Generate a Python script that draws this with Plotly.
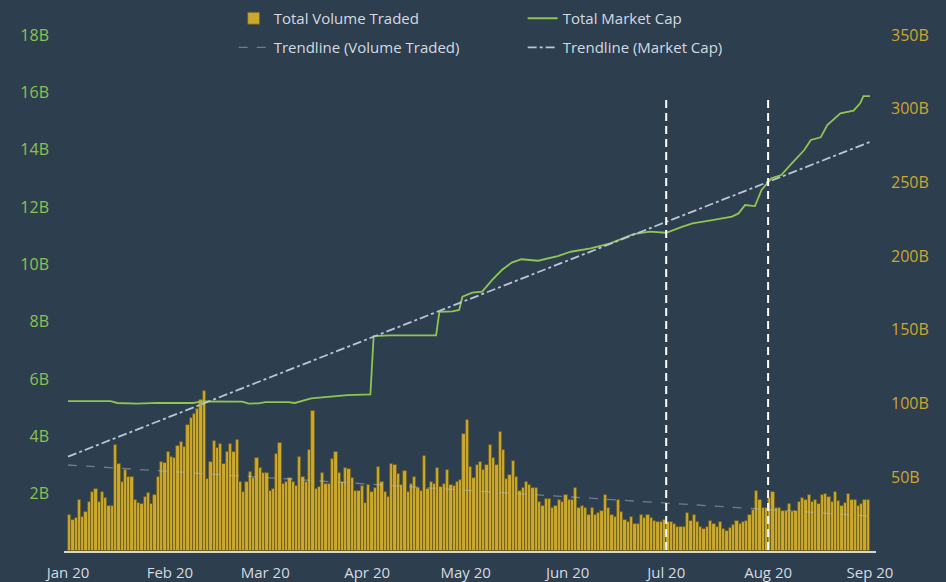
import pandas as pd
import plotly.graph_objects as go

# ---------------- data (billions) ----------------
vol_jan = [1.26,1.08,1.15,1.78,1.19,1.36,1.71,2.06,2.16,1.71,2.06,1.85,1.57,1.57,3.70,3.03,2.41,2.83,2.58,2.58,1.78,1.67,1.64,1.88,2.02,1.64,1.95,2.58,3.10,3.08,3.45]
vol_feb = [3.28,3.25,3.66,3.80,3.63,4.39,4.64,4.78,4.95,5.27,5.58,2.51,3.10,3.84,3.59,3.73,3.03,3.45,3.73,3.45,3.87,2.41,2.06,2.41,2.75,2.55,3.24,2.90,2.72]
vol_mar = [2.71,2.09,2.16,3.37,3.76,2.33,2.42,2.53,2.42,2.28,3.29,2.59,2.42,3.52,4.88,2.16,2.24,2.71,2.33,2.33,3.21,3.46,2.71,2.42,2.88,2.86,2.53,2.09,2.09,2.28,1.66]
vol_apr = [2.30,2.05,2.19,2.94,2.40,2.05,1.90,3.02,2.99,2.67,2.30,2.79,2.07,2.33,2.59,2.19,2.09,3.32,2.16,2.42,2.33,2.88,2.24,2.33,2.84,2.30,2.28,2.42,2.49,4.07]
vol_may = [4.57,2.94,2.53,3.00,3.09,2.84,3.00,3.70,3.25,3.00,4.14,3.52,2.50,2.64,3.14,2.59,2.09,2.19,2.42,2.30,2.19,2.19,1.72,1.58,1.81,1.81,1.51,1.58,1.79,1.72,1.95]
vol_jun = [1.79,1.79,2.19,1.51,1.58,1.51,1.26,1.49,1.24,1.31,1.40,1.95,1.49,1.24,1.20,1.79,1.37,1.08,1.00,1.17,0.93,0.93,1.24,1.15,1.24,1.15,1.05,1.00,1.00,1.08]
vol_jul = [1.02,1.00,0.93,0.85,0.83,0.85,1.31,1.05,1.24,1.02,0.85,0.77,0.85,1.05,0.93,0.83,1.00,0.77,0.70,0.80,0.90,1.05,0.93,1.00,1.05,1.24,1.43,2.09,1.79,1.49,1.49]
vol_aug = [1.84,2.07,1.51,1.49,1.40,1.40,1.65,1.37,1.40,1.72,1.84,1.79,1.95,1.72,1.79,1.65,1.95,2.00,1.90,1.72,2.07,1.74,1.58,1.67,1.98,1.79,1.79,1.58,1.65,1.79,1.79]

mcap_dates = ["2020-01-01","2020-01-08","2020-01-14","2020-01-16","2020-01-22","2020-01-28","2020-02-03","2020-02-08",
              "2020-02-11","2020-02-17","2020-02-23","2020-02-25","2020-02-28","2020-03-01","2020-03-08","2020-03-10",
              "2020-03-12","2020-03-15","2020-03-20","2020-03-26","2020-04-02","2020-04-03","2020-04-08","2020-04-15",
              "2020-04-22","2020-04-23","2020-04-27","2020-04-29","2020-04-30","2020-05-03","2020-05-06","2020-05-09",
              "2020-05-12","2020-05-15","2020-05-18","2020-05-23","2020-05-29","2020-06-02","2020-06-08","2020-06-14",
              "2020-06-21","2020-06-26","2020-07-01","2020-07-06","2020-07-09","2020-07-15","2020-07-21","2020-07-23",
              "2020-07-25","2020-07-28","2020-07-30","2020-08-02","2020-08-05","2020-08-08","2020-08-12","2020-08-14",
              "2020-08-17","2020-08-19","2020-08-23","2020-08-27","2020-08-29","2020-08-30","2020-09-01"]
mcap_values = [101.7,101.9,101.6,100.4,100.0,100.5,100.2,100.4,
               101.5,101.5,101.3,100.0,100.2,101.0,101.0,100.4,
               101.5,103.6,104.6,105.8,106.3,145.8,146.2,146.5,
               146.3,162.3,162.6,163.5,172.5,175.2,175.9,183.8,
               190.6,195.6,197.9,196.9,200.1,203.0,205.3,208.7,
               215.0,216.6,215.9,220.0,222.3,224.5,226.8,229.0,
               234.7,234.0,244.9,252.8,255.0,262.5,272.0,278.8,
               280.6,289.0,296.9,298.7,303.7,308.6,308.6]

trend_dates = ["2020-01-01", "2020-09-01"]
vol_trend = [3.0, 1.22]
mcap_trend = [64.0, 277.5]

event_dates = ["2020-07-01", "2020-08-01"]
event_top = 306

left_ticks = [2, 4, 6, 8, 10, 12, 14, 16, 18]
left_labels = [f"{v}B" for v in left_ticks]
right_ticks = [50, 100, 150, 200, 250, 300, 350]
right_labels = [f"{v}B" for v in right_ticks]

# ---------------- build ----------------
volume = vol_jan + vol_feb + vol_mar + vol_apr + vol_may + vol_jun + vol_jul + vol_aug
vol_x = pd.date_range("2020-01-01", periods=len(volume), freq="D") + pd.Timedelta(hours=12)

BG = "#2d3e4f"
GOLD = "#cba82e"
GREEN = "#8cc152"
TXT = "#d5dae0"
FONT = "Open Sans"

fig = go.Figure()
fig.add_trace(go.Bar(
    x=vol_x, y=volume, name="Total Volume Traded", yaxis="y",
    marker=dict(color=GOLD, line=dict(color="#6a5b1c", width=0.8)),
    legend="legend", hoverinfo="skip"))
fig.add_trace(go.Scatter(
    x=mcap_dates, y=mcap_values, name="Total Market Cap", yaxis="y2", mode="lines",
    line=dict(color="#8fc550", width=1.8), legend="legend"))
fig.add_trace(go.Scatter(
    x=trend_dates, y=vol_trend, name="Trendline (Volume Traded)", yaxis="y", mode="lines",
    line=dict(color="rgba(170,190,210,0.5)", width=1.3, dash="dash"), legend="legend2"))
fig.add_trace(go.Scatter(
    x=trend_dates, y=mcap_trend, name="Trendline (Market Cap)", yaxis="y2", mode="lines",
    line=dict(color="#b8c6d6", width=1.8, dash="dashdot"), legend="legend2"))

for d in event_dates:
    fig.add_shape(type="line", xref="x", yref="y2", x0=d, x1=d, y0=event_top, y1=0,
                  line=dict(color="white", width=2, dash="8px,5px"), layer="above")

fig.update_layout(
    width=946, height=582,
    paper_bgcolor=BG, plot_bgcolor=BG,
    margin=dict(l=64, r=70, t=20, b=31, autoexpand=False),
    font=dict(family=FONT, color=TXT, size=15),
    bargap=0,
    showlegend=True,
    legend=dict(orientation="h", xref="container", yref="container", x=0.247, y=0.9966,
                xanchor="left", yanchor="top", entrywidth=244, bgcolor="rgba(0,0,0,0)",
                font=dict(family=FONT, size=15, color=TXT)),
    legend2=dict(orientation="h", xref="container", yref="container", x=0.247, y=0.9466,
                 xanchor="left", yanchor="top", entrywidth=244, bgcolor="rgba(0,0,0,0)",
                 font=dict(family=FONT, size=15, color=TXT)),
    xaxis=dict(type="date", range=["2019-12-30 18:47", "2020-09-02 19:48"],
               tickformat="%b %y", dtick="M1", tick0="2020-01-01",
               showgrid=False, zeroline=False, showline=True, linecolor="#d8d8cc", linewidth=2,
               ticks="", ticklabelstandoff=7, automargin=False,
               tickfont=dict(family=FONT, size=15, color=TXT)),
    yaxis=dict(range=[0, 18.52], tickvals=left_ticks, ticktext=left_labels,
               showgrid=False, zeroline=False, showline=False, ticks="",
               ticklabelstandoff=14, automargin=False,
               tickfont=dict(family=FONT, size=16, color=GREEN)),
    yaxis2=dict(range=[0, 360.2], tickvals=right_ticks, ticktext=right_labels,
                overlaying="y", side="right",
                showgrid=False, zeroline=False, showline=False, ticks="",
                ticklabelstandoff=14, automargin=False,
                tickfont=dict(family=FONT, size=16, color=GOLD)),
)

fig.write_html("out.html", config={"displayModeBar": False},
               post_script="document.body.style.margin='0';document.body.style.overflow='hidden';")
